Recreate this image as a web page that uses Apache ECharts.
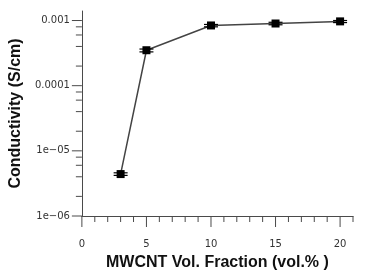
<!DOCTYPE html>
<html><head><meta charset="utf-8">
<script src="https://cdn.jsdelivr.net/npm/echarts@6/dist/echarts.min.js"></script>
<style>html,body{margin:0;padding:0;background:#fff}#c{width:372px;height:279px}</style>
</head><body><div id="c"></div>
<script>
// data
const volFraction = [3, 5, 10, 15, 20];
const conductivity = [4.4e-6, 3.5e-4, 8.4e-4, 9.0e-4, 9.7e-4];
const errLow = [4.2e-6, 3.3e-4, 8.0e-4, 8.6e-4, 9.3e-4];
const errHigh = [4.6e-6, 3.65e-4, 8.7e-4, 9.4e-4, 1.0e-3];
// axis ticks
const xMajorTicks = [0, 5, 10, 15, 20];
const xMinorTicks = [1, 2, 3, 4, 6, 7, 8, 9, 11, 12, 13, 14, 16, 17, 18, 19, 21];
const yMajorTicks = [1e-6, 1e-5, 1e-4, 1e-3];
const yMinorTicks = [2e-6, 4e-6, 6e-6, 8e-6, 2e-5, 4e-5, 6e-5, 8e-5, 2e-4, 4e-4, 6e-4, 8e-4];

const chart = echarts.init(document.getElementById('c'), null, {renderer: 'canvas'});
const axisColor = '#4a4a4a';
const tickData = [];
xMajorTicks.forEach(v => tickData.push([v, 0, 'xM']));
xMinorTicks.forEach(v => tickData.push([v, 0, 'xm']));
yMajorTicks.forEach(v => tickData.push([0, v, 'yM']));
yMinorTicks.forEach(v => tickData.push([0, v, 'ym']));

function fmtY(v) {
  const e = Math.log10(v);
  if (Math.abs(e - Math.round(e)) > 1e-6) return '';
  const k = Math.round(e);
  if (k >= -4) return String(Number(v.toFixed(-k)));
  return '1e\u2212' + String(-k).padStart(2, '0');
}

chart.setOption({
  animation: false,
  grid: {left: 75, right: 19, top: 11, bottom: 63},
  xAxis: {
    type: 'value', min: 0, max: 21, interval: 5,
    name: 'MWCNT Vol. Fraction (vol.% )', nameLocation: 'middle', nameGap: 39,
    nameTextStyle: {fontFamily: 'Liberation Sans', fontWeight: 'bold', fontSize: 16, color: '#111'},
    axisLine: {lineStyle: {color: axisColor, width: 1}},
    axisTick: {show: false},
    splitLine: {show: false},
    axisLabel: {margin: 23, fontFamily: 'DejaVu Sans', fontSize: 10, color: '#333',
      formatter: v => (v % 5 === 0 ? String(v) : '')}
  },
  yAxis: {
    type: 'log', logBase: 10, min: 1e-6, max: 1.4e-3,
    name: 'Conductivity (S/cm)', nameLocation: 'middle', nameGap: 53,
    nameTextStyle: {fontFamily: 'Liberation Sans', fontWeight: 'bold', fontSize: 16, color: '#111'},
    axisLine: {show: true, lineStyle: {color: axisColor, width: 1}},
    axisTick: {show: false},
    splitLine: {show: false},
    axisLabel: {margin: 12, fontFamily: 'DejaVu Sans', fontSize: 10, color: '#333', formatter: fmtY}
  },
  series: [
    {
      type: 'line',
      data: volFraction.map((x, i) => [x, conductivity[i]]),
      symbol: 'rect', symbolSize: 8,
      itemStyle: {color: '#000'},
      lineStyle: {color: '#444', width: 1.5},
      z: 3
    },
    {
      type: 'custom',
      data: volFraction.map((x, i) => [x, errLow[i], errHigh[i]]),
      renderItem: function (params, api) {
        const lo = api.coord([api.value(0), api.value(1)]);
        const hi = api.coord([api.value(0), api.value(2)]);
        const w = 7;
        return {type: 'group', children: [
          {type: 'line', shape: {x1: lo[0], y1: lo[1], x2: hi[0], y2: hi[1]}, style: {stroke: '#000', lineWidth: 1.2}},
          {type: 'line', shape: {x1: lo[0] - w, y1: lo[1], x2: lo[0] + w, y2: lo[1]}, style: {stroke: '#000', lineWidth: 1.2}},
          {type: 'line', shape: {x1: hi[0] - w, y1: hi[1], x2: hi[0] + w, y2: hi[1]}, style: {stroke: '#000', lineWidth: 1.2}}
        ]};
      },
      z: 4
    },
    {
      type: 'custom',
      clip: false,
      silent: true,
      data: tickData,
      renderItem: function (params, api) {
        const kind = tickData[params.dataIndex][2];
        let p, shape;
        if (kind[0] === 'x') {
          p = api.coord([api.value(0), 1e-6]);
          const len = kind === 'xM' ? 11 : 6;
          shape = {x1: p[0], y1: p[1], x2: p[0], y2: p[1] + len};
        } else {
          p = api.coord([0, api.value(1)]);
          const len = kind === 'yM' ? 10 : 6;
          shape = {x1: p[0] - len, y1: p[1], x2: p[0], y2: p[1]};
        }
        return {type: 'line', shape: shape, style: {stroke: axisColor, lineWidth: 1}};
      },
      z: 2
    }
  ]
});
</script></body></html>
